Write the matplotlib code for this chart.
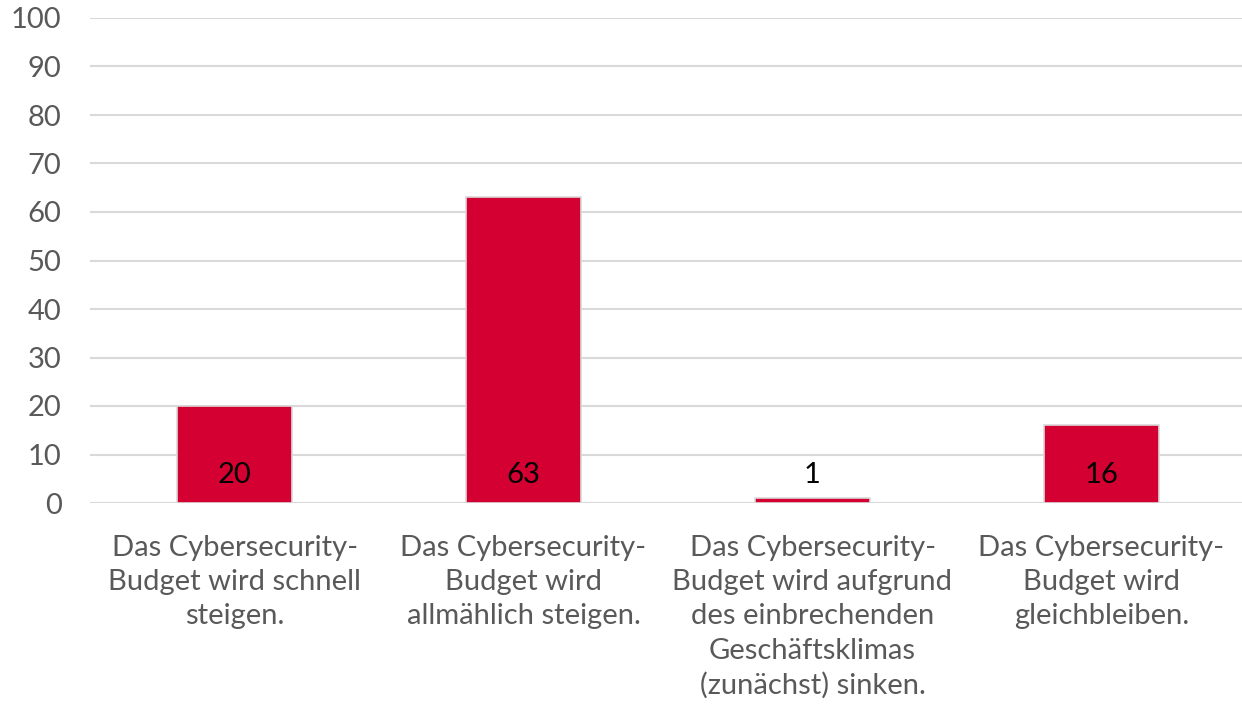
import matplotlib
matplotlib.use("Agg")
import matplotlib.pyplot as plt

categories = [
    "Das Cybersecurity-\nBudget wird schnell\nsteigen.",
    "Das Cybersecurity-\nBudget wird\nallmählich steigen.",
    "Das Cybersecurity-\nBudget wird aufgrund\ndes einbrechenden\nGeschäftsklimas\n(zunächst) sinken.",
    "Das Cybersecurity-\nBudget wird\ngleichbleiben.",
]
values = [20, 63, 1, 16]
yticks = [0, 10, 20, 30, 40, 50, 60, 70, 80, 90, 100]

plt.rcParams['font.family'] = ['Lato', 'DejaVu Sans']

W, H = 1242, 715
fig = plt.figure(figsize=(W / 100, H / 100), dpi=100)
ax = fig.add_axes([90 / W, (H - 503) / H, (1246 - 90) / W, (503 - 18) / H])

x = list(range(len(values)))
bars = ax.bar(x, values, width=0.4, color="#D50032", edgecolor="#D9D9D9", linewidth=1.2, zorder=3)

for xi, v in zip(x, values):
    ax.annotate(str(v), (xi, 0), xytext=(0, 28), textcoords="offset pixels",
                ha="center", va="center", fontsize=21, color="black", zorder=4)

ax.set_xlim(-0.5, len(values) - 0.5)
ax.set_ylim(0, 100)
ax.set_yticks(yticks)
ax.set_yticklabels([str(t) for t in yticks], fontsize=21, color="#595959")
ax.set_xticks(x)
ax.set_xticklabels(categories, fontsize=21, color="#595959", linespacing=1.39)
ax.tick_params(axis="y", length=0, pad=20.5)
ax.tick_params(axis="x", length=0, pad=23)
for s in ax.spines.values():
    s.set_visible(False)
ax.grid(axis="y", color="#D9D9D9", linewidth=1.5, zorder=0)
ax.set_axisbelow(True)

fig.savefig("out.png", dpi=100)
